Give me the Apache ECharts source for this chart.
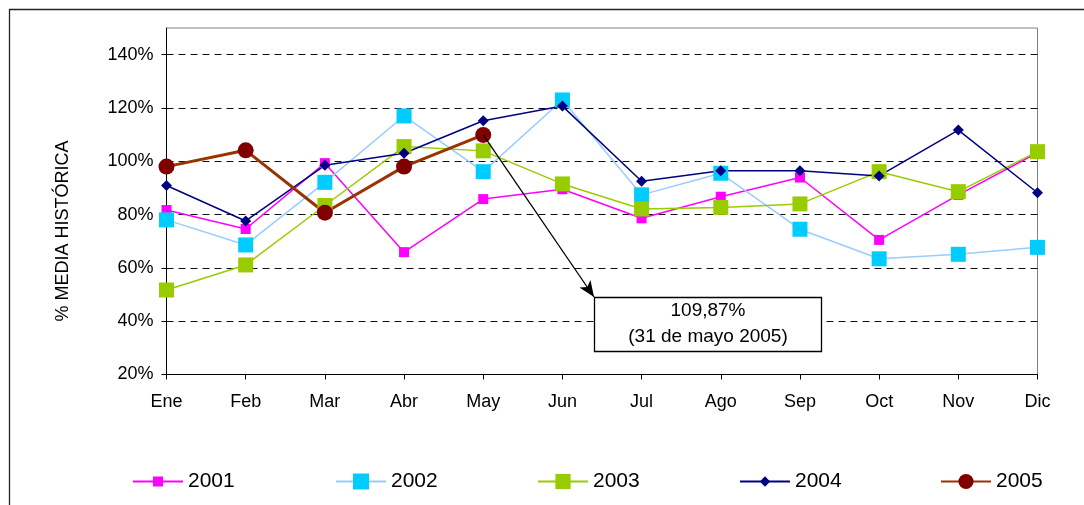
<!DOCTYPE html>
<html>
<head>
<meta charset="utf-8">
<script src="https://cdn.jsdelivr.net/npm/echarts@6/dist/echarts.min.js"></script>
<style>
html,body{margin:0;padding:0;background:#fff;}
#chart{width:1084px;height:505px;}
</style>
</head>
<body>
<div id="chart"></div>
<script>
var months = ['Ene','Feb','Mar','Abr','May','Jun','Jul','Ago','Sep','Oct','Nov','Dic'];
var yTicks = [20, 40, 60, 80, 100, 120, 140];
var years = ['2001', '2002', '2003', '2004', '2005'];
var s2001 = [81.7, 74.6, 99.3, 65.9, 85.8, 89.5, 78.6, 86.7, 93.9, 70.5, 87.4, 103.2];
var s2002 = [78.0, 68.6, 92.1, 117.0, 96.1, 123.0, 87.4, 95.5, 74.5, 63.4, 65.1, 67.7];
var s2003 = [51.7, 61.1, 83.4, 105.5, 103.9, 91.5, 82.1, 82.7, 84.0, 96.1, 88.6, 103.6];
var s2004 = [90.9, 77.6, 98.5, 103.0, 115.2, 120.7, 92.5, 96.4, 96.4, 94.5, 111.7, 88.2];
var s2005 = [98.0, 104.1, 80.7, 98.0, 109.87];
var annotText = ['109,87%', '(31 de mayo 2005)'];

var FONT = '"Liberation Sans", Arial, sans-serif';
var chart = echarts.init(document.getElementById('chart'), null, {renderer: 'canvas'});

var legendLefts = [132, 335, 537, 739, 940];
var legendHeights = [12.5, 20, 19, 13, 19];
var legends = years.map(function (y, i) {
  return {
    left: legendLefts[i], top: 471,
    itemWidth: 50, itemHeight: legendHeights[i], padding: 0,
    textStyle: {fontFamily: FONT, fontSize: 21, color: '#000'},
    data: [y]
  };
});

var option = {
  animation: false,
  textStyle: {fontFamily: FONT, color: '#000'},
  grid: {
    left: 166.5, right: 46.5, top: 28, bottom: 130.5,
    show: true, borderColor: '#808080', borderWidth: 1, backgroundColor: 'transparent',
    containLabel: false
  },
  legend: legends,
  xAxis: {
    type: 'category',
    data: months,
    boundaryGap: false,
    axisLine: {lineStyle: {color: '#000', width: 1}},
    axisTick: {show: true, length: 5, lineStyle: {color: '#000'}},
    axisLabel: {fontFamily: FONT, fontSize: 18, color: '#000', margin: 19},
    splitLine: {show: false}
  },
  yAxis: {
    type: 'value',
    min: yTicks[0], max: 150, interval: yTicks[1] - yTicks[0],
    axisLine: {show: true, lineStyle: {color: '#000', width: 1}},
    axisTick: {show: true, length: 5, lineStyle: {color: '#000'}},
    axisLabel: {fontFamily: FONT, fontSize: 18, color: '#000', margin: 13,
      showMaxLabel: false,
      formatter: function (v) { return yTicks.indexOf(v) >= 0 ? v + '%' : ''; }},
    splitLine: {show: true, showMinLine: false, showMaxLine: false,
      lineStyle: {color: '#111', width: 1, type: [7, 5]}}
  },
  series: [
    {
      name: years[0], type: 'line', data: s2001,
      symbol: 'rect', symbolSize: 10,
      lineStyle: {color: '#FF00FF', width: 1.5},
      itemStyle: {color: '#FF00FF'}
    },
    {
      name: years[1], type: 'line', data: s2002,
      symbol: 'rect', symbolSize: 15,
      lineStyle: {color: '#99CCFF', width: 1.5},
      itemStyle: {color: '#00CCFF'}
    },
    {
      name: years[2], type: 'line', data: s2003,
      symbol: 'rect', symbolSize: 15,
      lineStyle: {color: '#99CC00', width: 1.5},
      itemStyle: {color: '#99CC00'}
    },
    {
      name: years[3], type: 'line', data: s2004,
      symbol: 'diamond', symbolSize: 11,
      lineStyle: {color: '#000080', width: 1.5},
      itemStyle: {color: '#000080'}
    },
    {
      name: years[4], type: 'line', data: s2005,
      symbol: 'circle', symbolSize: 16,
      lineStyle: {color: '#993300', width: 3},
      itemStyle: {color: '#800000'},
      markLine: {
        silent: true,
        symbol: ['none', 'arrow'],
        symbolSize: [10, 16],
        label: {show: false},
        lineStyle: {color: '#000', width: 1.3, type: 'solid'},
        data: [[
          {coord: [months[4], s2005[4]]},
          {x: 594, y: 297}
        ]]
      }
    }
  ],
  graphic: [
    {
      type: 'rect', silent: true, z: -10,
      shape: {x: 9.5, y: 9.5, width: 1090, height: 510},
      style: {fill: 'none', stroke: '#222', lineWidth: 1.3}
    },
    {
      type: 'text', silent: true,
      x: 63, y: 231, rotation: Math.PI / 2,
      style: {text: '% MEDIA HISTÓRICA', font: '18px ' + FONT, fill: '#000',
        align: 'center', verticalAlign: 'middle'}
    },
    {
      type: 'group', silent: true,
      children: [
        {type: 'rect', shape: {x: 594.5, y: 297.5, width: 227, height: 54},
          style: {fill: '#fff', stroke: '#000', lineWidth: 1.3}, z: 100},
        {type: 'text', x: 708, y: 311, z: 101,
          style: {text: annotText[0], font: '19px ' + FONT, fill: '#000', align: 'center', verticalAlign: 'middle'}},
        {type: 'text', x: 708, y: 337, z: 101,
          style: {text: annotText[1], font: '19px ' + FONT, fill: '#000', align: 'center', verticalAlign: 'middle'}}
      ]
    }
  ]
};
chart.setOption(option);
</script>
</body>
</html>
